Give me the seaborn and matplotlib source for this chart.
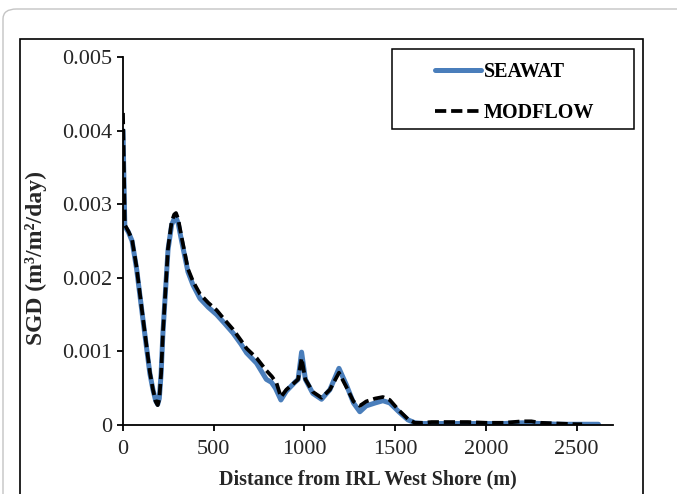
import numpy as np
import pandas as pd
import seaborn as sns
import matplotlib.pyplot as plt
from matplotlib.patches import Rectangle, FancyBboxPatch

# SGD values, in units of 0.001 m3/m2/day
seawat_x = [0, 10, 30, 50, 75, 110, 148, 165, 180, 191, 200, 210, 220, 248,
            268, 282, 292, 304, 323, 358, 386, 424, 470, 516, 560, 606, 650,
            681, 736, 790, 818, 840, 870, 900, 947, 965, 984, 1005, 1046, 1094,
            1140, 1190, 1230, 1270, 1305, 1340, 1390, 1432, 1470, 1520, 1570,
            1608, 1650, 1700, 1800, 1900, 2000, 2100, 2200, 2300, 2400, 2500,
            2620]
seawat_y = [4.0, 2.7, 2.62, 2.5, 2.12, 1.43, 0.70, 0.48, 0.33, 0.28, 0.36,
            0.7, 1.25, 2.38, 2.72, 2.80, 2.82, 2.74, 2.5, 2.08, 1.9, 1.72, 1.6,
            1.5, 1.38, 1.25, 1.1, 0.98, 0.84, 0.62, 0.58, 0.5, 0.34, 0.46,
            0.58, 0.62, 0.99, 0.62, 0.43, 0.35, 0.48, 0.77, 0.55, 0.3, 0.18,
            0.26, 0.3, 0.33, 0.3, 0.18, 0.07, 0.03, 0.02, 0.02, 0.02, 0.02,
            0.02, 0.02, 0.03, 0.02, 0.01, 0.01, 0.01]

modflow_x = [0, 10, 30, 50, 75, 110, 148, 165, 180, 191, 200, 210, 220, 248,
             268, 282, 292, 304, 323, 358, 386, 424, 470, 516, 560, 606, 650,
             681, 736, 790, 820, 846, 870, 900, 947, 965, 984, 1005, 1046, 1094,
             1140, 1190, 1230, 1270, 1305, 1340, 1390, 1432, 1470, 1520, 1570,
             1608, 1650, 1700, 1800, 1900, 2000, 2100, 2200, 2250, 2300, 2400,
             2500, 2530]
modflow_y = [4.24, 2.72, 2.63, 2.52, 2.14, 1.45, 0.72, 0.48, 0.32, 0.27, 0.35,
             0.7, 1.25, 2.4, 2.76, 2.86, 2.88, 2.8, 2.55, 2.12, 1.95, 1.78,
             1.66, 1.56, 1.43, 1.30, 1.15, 1.04, 0.91, 0.74, 0.66, 0.57, 0.38,
             0.48, 0.58, 0.62, 0.91, 0.62, 0.45, 0.37, 0.48, 0.71, 0.52, 0.32,
             0.26, 0.32, 0.36, 0.38, 0.34, 0.2, 0.08, 0.03, 0.03, 0.04, 0.04,
             0.04, 0.03, 0.03, 0.05, 0.05, 0.03, 0.02, 0.01, 0.01]

x_ticks = [0, 500, 1000, 1500, 2000, 2500]
y_ticks = [0, 0.001, 0.002, 0.003, 0.004, 0.005]
y_tick_labels = ["0", "0.001", "0.002", "0.003", "0.004", "0.005"]

seawat = pd.DataFrame({"x": seawat_x, "sgd": np.array(seawat_y) * 1e-3})
modflow = pd.DataFrame({"x": modflow_x, "sgd": np.array(modflow_y) * 1e-3})

sns.set_style("ticks")
plt.rcParams["font.family"] = ["Liberation Serif", "DejaVu Serif"]

W, H = 677, 494
fig = plt.figure(figsize=(W / 100, H / 100), dpi=100, facecolor="white")


def fx(px):
    return px / W


def fy(py):
    return 1 - py / H


# outer rounded grey card and inner black frame
fig.patches.append(FancyBboxPatch((fx(3), fy(520)), fx(720), (520 - 9) / H,
                                  boxstyle="round,pad=0,rounding_size=0.02",
                                  transform=fig.transFigure, fill=False,
                                  ec="#c4c4c4", lw=1.0, zorder=-2))
fig.patches.append(Rectangle((fx(20), fy(520)), fx(643 - 20), (520 - 39) / H,
                             transform=fig.transFigure, fill=False,
                             ec="black", lw=1.2, zorder=-1))

ax = fig.add_axes([fx(123), fy(425), fx(613 - 123), (425 - 57) / H])
ax.set_facecolor("none")
ax.set_zorder(2)

sns.lineplot(data=seawat, x="x", y="sgd", ax=ax, sort=False, color="#4A7EBB",
             lw=3.6, label="SEAWAT", solid_joinstyle="round")
sns.lineplot(data=modflow, x="x", y="sgd", ax=ax, sort=False, color="black",
             lw=2.7, linestyle=(0, (3.0, 1.3)), label="MODFLOW")

ax.set_xlim(0, 2700)
ax.set_ylim(0, 0.005)
ax.set_xticks(x_ticks)
ax.set_yticks(y_ticks)
ax.set_yticklabels(y_tick_labels)
ax.tick_params(labelsize=16, length=4, width=1.3, color="black")
ax.tick_params(axis="x", pad=7)
ax.tick_params(axis="y", pad=4)
for s in ["left", "bottom"]:
    ax.spines[s].set_linewidth(1.3)
    ax.spines[s].set_color("black")
sns.despine(ax=ax)

ax.set_xlabel("Distance from IRL West Shore (m)", fontsize=14.5,
              fontweight="bold", labelpad=7)
ax.set_ylabel("SGD (m³/m²/day)", fontsize=17, fontweight="bold")
ax.yaxis.set_label_coords(fx(47), fy(258), transform=fig.transFigure)

# legend box drawn separately, legend entries inside it
fig.patches.append(Rectangle((fx(392), fy(129)), fx(634 - 392), (129 - 49) / H,
                             transform=fig.transFigure, fill=False,
                             ec="black", lw=1.1, zorder=3))
leg = ax.legend(loc="upper left", bbox_to_anchor=(fx(435), fy(62)),
                bbox_transform=fig.transFigure, frameon=False,
                prop={"size": 14.5, "weight": "bold"}, handlelength=2.3,
                handletextpad=0.12, labelspacing=1.05, borderpad=0,
                borderaxespad=0)
for t in leg.get_texts():
    t.set_color("black")

fig.savefig("out.png", dpi=100)
